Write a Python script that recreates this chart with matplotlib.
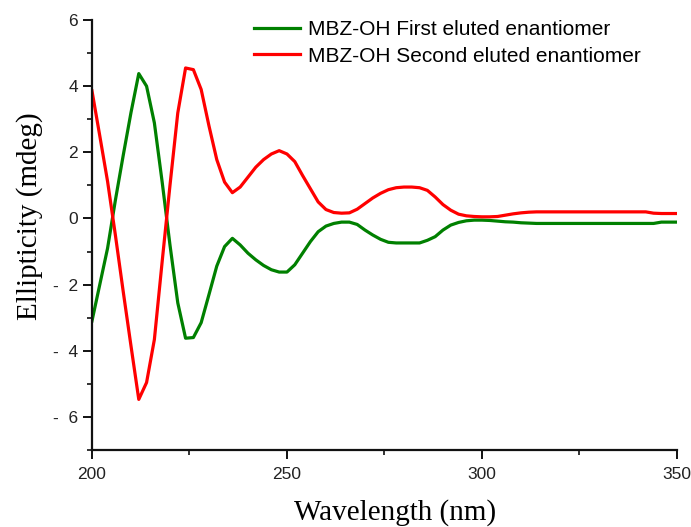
import numpy as np
import matplotlib
matplotlib.use("Agg")
import matplotlib.pyplot as plt
from matplotlib.ticker import MultipleLocator, FixedLocator, FixedFormatter

# CD spectra of the two MBZ-OH enantiomers, sampled every 2 nm
wavelength = list(range(200, 352, 2))

first_eluted = [
    -3.10, -2.00, -0.90, 0.55, 1.90, 3.20, 4.38, 4.00, 2.89, 1.10,
    -0.80, -2.55, -3.62, -3.60, -3.15, -2.30, -1.44, -0.85, -0.60, -0.80,
    -1.05, -1.25, -1.42, -1.55, -1.62, -1.62, -1.40, -1.05, -0.70, -0.40,
    -0.23, -0.15, -0.11, -0.11, -0.18, -0.35, -0.50, -0.63, -0.72, -0.74,
    -0.74, -0.74, -0.74, -0.66, -0.55, -0.35, -0.20, -0.12, -0.07, -0.05,
    -0.05, -0.06, -0.08, -0.10, -0.11, -0.13, -0.14, -0.15, -0.15, -0.15,
    -0.15, -0.15, -0.15, -0.15, -0.15, -0.15, -0.15, -0.15, -0.15, -0.15,
    -0.15, -0.15, -0.15, -0.11, -0.11, -0.11,
]

second_eluted = [
    3.86, 2.50, 1.12, -0.50, -2.20, -3.85, -5.47, -4.96, -3.66, -1.30,
    1.00, 3.19, 4.55, 4.50, 3.90, 2.80, 1.78, 1.10, 0.78, 0.95,
    1.25, 1.55, 1.78, 1.95, 2.05, 1.95, 1.72, 1.30, 0.90, 0.50,
    0.27, 0.18, 0.16, 0.17, 0.28, 0.45, 0.62, 0.76, 0.87, 0.93,
    0.95, 0.95, 0.93, 0.85, 0.65, 0.42, 0.25, 0.13, 0.08, 0.06,
    0.05, 0.05, 0.06, 0.10, 0.14, 0.17, 0.19, 0.20, 0.20, 0.20,
    0.20, 0.20, 0.20, 0.20, 0.20, 0.20, 0.20, 0.20, 0.20, 0.20,
    0.20, 0.20, 0.16, 0.15, 0.15, 0.15,
]

series_labels = [
    "MBZ-OH First eluted enantiomer",
    "MBZ-OH Second eluted enantiomer",
]

y_major = [-6, -4, -2, 0, 2, 4, 6]
y_major_labels = ["-  6", "-  4", "-  2", "0", "2", "4", "6"]
x_major = [200, 250, 300, 350]

fig = plt.figure(figsize=(6.91, 5.27), dpi=100)
ax = fig.add_axes([0.1331, 0.1461, 0.8466, 0.8159])

ax.plot(wavelength, first_eluted, color="#008000", lw=2.3, label=series_labels[0])
ax.plot(wavelength, second_eluted, color="#ff0000", lw=2.3, label=series_labels[1])

ax.set_xlim(200, 350)
ax.set_ylim(-7, 6)

for side in ("top", "right"):
    ax.spines[side].set_visible(False)
for side in ("left", "bottom"):
    ax.spines[side].set_linewidth(1.6)
    ax.spines[side].set_color("#111111")

ax.xaxis.set_major_locator(FixedLocator(x_major))
ax.xaxis.set_minor_locator(MultipleLocator(25))
ax.yaxis.set_major_locator(FixedLocator(y_major))
ax.yaxis.set_major_formatter(FixedFormatter(y_major_labels))
ax.yaxis.set_minor_locator(MultipleLocator(1))

ax.tick_params(which="major", direction="out", length=6.5, width=1.4,
               colors="#111111", labelcolor="#222222", pad=3.5)
ax.tick_params(which="minor", direction="out", length=3.5, width=1.2,
               colors="#111111")
ax.tick_params(axis="x", which="major", pad=6)
for lbl in ax.get_xticklabels() + ax.get_yticklabels():
    lbl.set_fontfamily("Liberation Sans")
    lbl.set_fontsize(12.5)

# axis titles in a serif face
fig.text(395 / 691, 1 - 520 / 527, "Wavelength (nm)", family="Liberation Serif",
         fontsize=21, ha="center", va="baseline")
fig.text(30 / 691, 1 - 216 / 527, "Ellipticity (mdeg)", family="Liberation Serif",
         fontsize=21, ha="center", va="center", rotation=90)

leg = ax.legend(loc="upper left", bbox_to_anchor=(0.277, 1.0), frameon=False,
                prop=dict(family="Liberation Sans", size=15),
                handlelength=2.2, handletextpad=0.38, labelspacing=0.36,
                borderaxespad=0.0, borderpad=0.0)

fig.savefig("out.png", dpi=100)
